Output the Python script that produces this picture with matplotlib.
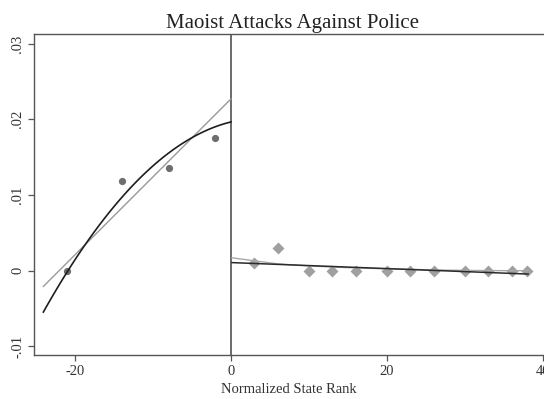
import numpy as np
import matplotlib
matplotlib.use('Agg')
import matplotlib.pyplot as plt

plt.rcParams['font.family'] = ['Liberation Serif', 'DejaVu Serif']

# binned means below / above the cutoff
left_rank = [-21, -14, -8, -2]
left_attacks = [0.0, 0.0119, 0.0135, 0.0175]
right_rank = [3, 6, 10, 13, 16, 20, 23, 26, 30, 33, 36, 38]
right_attacks = [0.00106, 0.00296, 0.0, 0.0, 0.0, 0.0, 0.0, 0.0, 0.0, 0.0, 0.0, 0.0]

# fitted curves (polynomial coefficients, highest power first)
left_lin = [0.00103, 0.0227]
left_quad = [-3.3e-5, 2.5e-4, 0.01965]
right_lin = [-3.98e-5, 0.00107]
# smoothed fit on the right side
right_smooth_x = [0.13, 3, 6, 10, 15, 20, 25, 30, 35, 38.1]
right_smooth_y = [0.0017, 0.0013, 0.0009, 0.00062, 0.0004, 0.00024, 0.00012, 0.00003, 0.0, 0.0]

left_range = (-24.06, 0.0)
right_range = (0.13, 38.1)

yticks = [-0.01, 0.0, 0.01, 0.02, 0.03]
ytick_labels = ['-.01', '0', '.01', '.02', '.03']
xticks = [-20, 0, 20, 40]

fig = plt.figure(figsize=(5.44, 3.99), dpi=100)
ax = fig.add_axes([0.0625, 0.1103, 0.9375, 0.8045])

xl = np.linspace(*left_range, 100)
xr = np.linspace(*right_range, 100)

ax.plot(xl, np.polyval(left_lin, xl), color='#9a9a9a', lw=1.0, zorder=3)
ax.plot(xl, np.polyval(left_quad, xl), color='#1e1e1e', lw=1.2, zorder=3)
ax.plot(right_smooth_x, right_smooth_y, color='#a8a8a8', lw=1.0, zorder=3)
ax.plot(xr, np.polyval(right_lin, xr), color='#2a2a2a', lw=1.1, zorder=3)

ax.plot(left_rank, left_attacks, 'o', color='#6e6e6e', ms=5.2, mec='none', zorder=2)
ax.plot(right_rank, right_attacks, 'D', color='#a0a0a0', ms=5.8, mec='none', zorder=2)

ax.axvline(0, color='#6a6a6a', lw=1.4, zorder=1)

ax.set_xlim(-25.26, 40.13)
ax.set_ylim(-0.01114, 0.03127)
ax.set_xticks(xticks)
ax.set_xticklabels([str(t) for t in xticks])
ax.set_yticks(yticks)
ax.set_yticklabels(ytick_labels, rotation=90, va='center')

for s in ['left', 'bottom', 'top']:
    ax.spines[s].set_color('#555555')
    ax.spines[s].set_linewidth(1.0)
ax.spines['right'].set_visible(False)
ax.tick_params(direction='out', length=4, width=0.9, color='#555555',
               labelsize=10.5, labelcolor='#333333', pad=3)

ax.set_title('Maoist Attacks Against Police', fontsize=15, color='#222222',
             pad=4, x=0.507)
ax.set_xlabel('Normalized State Rank', fontsize=10.5, color='#333333', labelpad=4)

fig.savefig('out.png', dpi=100)
